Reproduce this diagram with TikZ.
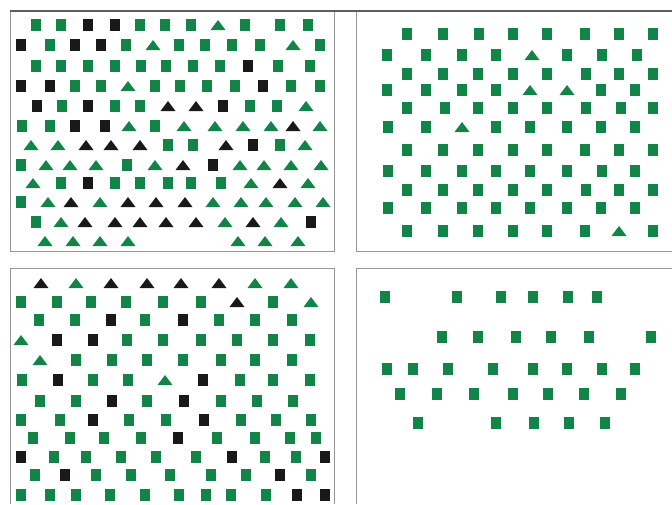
\documentclass[tikz,border=0pt]{standalone}
\definecolor{gr}{RGB}{18,132,72}
\definecolor{bk}{RGB}{25,25,25}
\definecolor{ln}{RGB}{150,150,150}
\definecolor{lnd}{RGB}{95,95,95}
\tikzset{
  pics/g/.style={code={\fill[gr] (-5,-6) rectangle (5,6);}},
  pics/k/.style={code={\fill[bk] (-5,-6) rectangle (5,6);}},
  pics/G/.style={code={\fill[gr] (-7.5,5) -- (7.5,5) -- (0,-5) -- cycle;}},
  pics/K/.style={code={\fill[bk] (-7.5,5) -- (7.5,5) -- (0,-5) -- cycle;}},
  frame/.style={draw=ln, line width=1pt},
  topline/.style={draw=lnd, line width=1.5pt}
}
\newcommand{\shrow}[2]{\foreach \xx/\tt in {#2} {\pic at (\xx,#1) {\tt};}}
\begin{document}
\begin{tikzpicture}[x=1pt,y=-1pt]
\useasboundingbox (0,0) rectangle (672,504);
\fill[white] (0,0) rectangle (672,504);
% frames
\draw[frame] (10,11) -- (10,251) -- (334,251) -- (334,11);
\draw[frame] (356,11) -- (356,251) -- (672,251);
\draw[frame] (10,504) -- (10,268) -- (334,268) -- (334,504);
\draw[frame] (356,504) -- (356,268) -- (672,268);
\draw[topline] (10,11) -- (672,11);
% top-left
\shrow{25}{36/g,61/g,88/k,115/k,140/g,165/g,191/g,218/G,245/g,280/g,308/g}
\shrow{45}{21/k,50/g,75/k,101/k,126/g,153/G,179/g,205/g,232/g,260/g,293/G,320/g}
\shrow{66}{36/g,61/g,88/g,115/g,141/g,166/g,193/g,220/g,248/k,278/g,310/g}
\shrow{86}{21/k,50/k,75/g,101/g,128/G,155/g,180/g,207/g,235/g,263/k,291/g,320/g}
\shrow{106}{37/k,62/g,88/k,115/g,140/g,168/K,196/K,223/k,250/g,277/g,306/G}
\shrow{126}{22/g,50/g,75/k,105/k,129/G,155/g,184/G,215/G,243/G,271/G,293/K,320/G}
\shrow{145}{31/G,58/G,86/K,111/K,140/K,168/g,193/g,226/K,253/k,280/g,305/G}
\shrow{165}{21/g,46/G,70/G,96/G,127/g,155/G,183/K,213/k,240/G,264/G,291/G,321/G}
\shrow{183}{33/G,61/g,88/k,115/g,140/g,168/g,191/g,221/g,251/G,280/K,308/G}
\shrow{202}{21/g,48/G,71/K,100/G,128/K,156/K,185/K,213/G,241/G,266/G,295/G,323/G}
\shrow{222}{36/g,61/G,85/K,115/K,140/K,166/K,196/K,225/G,253/K,281/G,311/k}
\shrow{241}{45/G,73/G,100/G,128/G,238/G,265/G,298/G}
% top-right
\shrow{34}{407/g,443/g,479/g,513/g,547/g,585/g,619/g,653/g}
\shrow{55}{387/g,426/g,462/g,496/g,532/G,567/g,602/g,637/g}
\shrow{74}{407/g,443/g,478/g,513/g,547/g,586/g,619/g,653/g}
\shrow{90}{387/g,426/g,462/g,496/g,530/G,567/G,601/g,635/g}
\shrow{108}{407/g,445/g,478/g,513/g,547/g,586/g,621/g,653/g}
\shrow{127}{388/g,426/g,462/G,496/g,530/g,567/g,601/g,635/g}
\shrow{150}{407/g,443/g,478/g,513/g,547/g,585/g,619/g,653/g}
\shrow{171}{388/g,426/g,462/g,496/g,530/g,567/g,602/g,635/g}
\shrow{190}{407/g,443/g,478/g,513/g,547/g,586/g,619/g,653/g}
\shrow{208}{388/g,426/g,462/g,496/g,530/g,567/g,601/g,635/g}
\shrow{231}{407/g,443/g,478/g,513/g,547/g,585/g,619/G,653/g}
% bottom-left
\shrow{283}{41/K,76/G,111/K,147/K,181/K,219/K,255/G,291/G}
\shrow{302}{21/g,57/g,91/g,126/g,163/g,201/g,237/K,273/g,311/G}
\shrow{320}{39/g,75/g,111/k,145/g,183/k,219/g,255/g,292/g}
\shrow{340}{21/G,57/k,93/k,127/g,163/g,201/g,237/g,273/g,310/g}
\shrow{360}{40/G,76/g,112/g,147/g,183/g,221/g,255/g,292/g}
\shrow{380}{22/g,58/k,93/g,128/g,165/G,203/k,240/g,273/g,310/g}
\shrow{401}{40/g,76/g,112/k,147/g,184/k,221/g,257/g,293/g}
\shrow{420}{21/g,60/g,93/k,129/g,166/g,204/k,241/g,276/g,311/g}
\shrow{438}{33/g,70/g,104/g,141/g,178/k,217/g,255/g,290/g,316/g}
\shrow{457}{21/k,54/g,86/g,121/g,156/g,196/g,232/k,265/g,296/g,325/k}
\shrow{475}{35/g,65/k,96/g,131/g,170/g,211/g,246/g,280/k,311/g}
\shrow{495}{21/g,50/g,76/g,110/g,145/g,179/g,206/g,231/g,266/g,297/k,325/k}
% bottom-right
\shrow{297}{385/g,457/g,501/g,533/g,568/g,597/g}
\shrow{337}{442/g,478/g,516/g,551/g,589/g,651/g}
\shrow{369}{387/g,413/g,448/g,493/g,533/g,567/g,602/g,635/g}
\shrow{394}{400/g,437/g,474/g,513/g,548/g,584/g,621/g}
\shrow{423}{418/g,496/g,534/g,569/g,605/g}
\end{tikzpicture}
\end{document}
